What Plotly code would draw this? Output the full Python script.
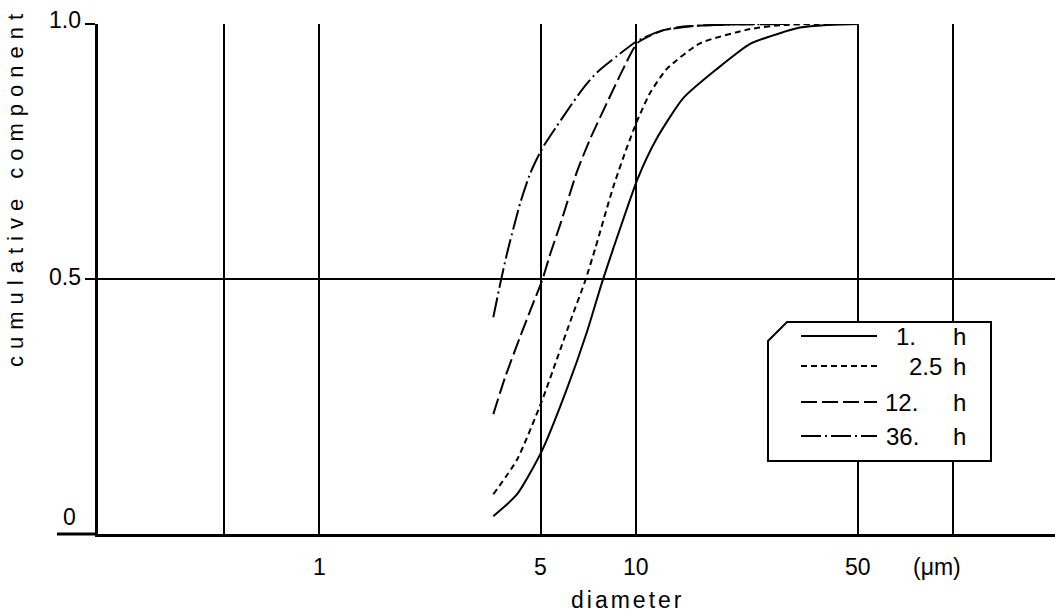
import math
import plotly.graph_objects as go

# ---------------- data ----------------
series_names = ["1.  h", "2.5 h", "12. h", "36. h"]

d_1h = [3.54, 4.21, 5.04, 6.04, 6.99, 7.79, 8.46, 10.1, 11.6, 14.1, 18.0, 22.9, 29.1, 32.9, 40, 50]
v_1h = [0.035, 0.078, 0.163, 0.284, 0.396, 0.492, 0.559, 0.696, 0.775, 0.855, 0.912, 0.961, 0.984, 0.993, 0.998, 1.0]

d_25h = [3.54, 4.2, 5.04, 5.62, 6.27, 6.9, 7.42, 8.46, 9.35, 10.1, 11.07, 12.5, 15.9, 22.9, 29.1, 40]
v_25h = [0.078, 0.145, 0.261, 0.343, 0.426, 0.496, 0.559, 0.68, 0.758, 0.812, 0.865, 0.912, 0.962, 0.99, 0.998, 1.0]

d_12h = [3.54, 3.86, 4.31, 4.69, 5.04, 5.36, 5.76, 6.5, 7.16, 8.08, 9.1, 10.1, 12.2, 14.1, 20, 30]
v_12h = [0.235, 0.308, 0.388, 0.447, 0.496, 0.55, 0.607, 0.71, 0.775, 0.845, 0.912, 0.963, 0.988, 0.995, 0.999, 1.0]

d_36h = [3.54, 3.72, 3.91, 4.31, 4.63, 5.04, 5.62, 6.33, 6.8, 7.52, 8.69, 10.1, 12.2, 15.9, 20, 30]
v_36h = [0.425, 0.49, 0.55, 0.65, 0.707, 0.755, 0.8, 0.847, 0.874, 0.905, 0.937, 0.967, 0.988, 0.997, 0.999, 1.0]

x_grid_vals = [0.5, 1, 5, 10, 50, 100]
x_tick_vals = [1, 5, 10, 50]
x_tick_text = ["1", "5", "10", "50"]
y_tick_vals = [0, 0.5, 1.0]
y_tick_text = ["0", "0.5", "1.0"]
x_unit = "(μm)"
x_title = "diameter"
y_title = "cumulative component"

# ---------------- layout helpers ----------------
W, H = 1055, 614
L, R, T, B = 98, 0, 24, 80
PW, PH = W - L - R, H - T - B


def px(xp):
    return (xp - L) / PW


def py(yp):
    return (H - B - yp) / PH


FONT = "Liberation Sans, Arial, sans-serif"
dashes = ["solid", "6px,4px", "16px,5px", "20px,4px,2px,4px"]
series = [(d_1h, v_1h), (d_25h, v_25h), (d_12h, v_12h), (d_36h, v_36h)]

fig = go.Figure()
for (dx, vy), name, dash in zip(series, series_names, dashes):
    fig.add_trace(go.Scatter(
        x=dx, y=vy, mode="lines", name=name, showlegend=False,
        line=dict(color="black", width=2, dash=dash, shape="spline", smoothing=0.6),
        hoverinfo="skip",
    ))

annotations = []
# x tick labels
for v, t in zip(x_tick_vals, x_tick_text):
    annotations.append(dict(x=math.log10(v), xref="x", y=py(567), yref="paper",
                            text=t, showarrow=False, xanchor="center", yanchor="middle",
                            font=dict(family=FONT, size=23, color="black")))
annotations.append(dict(x=px(937), xref="paper", y=py(567), yref="paper",
                        text=x_unit, showarrow=False, xanchor="center", yanchor="middle",
                        font=dict(family=FONT, size=23, color="black")))
# y tick labels
y_label_right = [78, 83, 83]
y_label_shift = [17, 2, 4]
for v, t, xr, ys in zip(y_tick_vals, y_tick_text, y_label_right, y_label_shift):
    annotations.append(dict(x=px(xr), xref="paper", y=v, yref="y", yshift=ys,
                            text=t, showarrow=False, xanchor="right", yanchor="middle",
                            font=dict(family=FONT, size=23, color="black")))
# axis titles
annotations.append(dict(x=px(627), xref="paper", y=py(600), yref="paper",
                        text='<span style="letter-spacing:3px">' + x_title + '</span>',
                        showarrow=False, xanchor="center", yanchor="middle",
                        font=dict(family=FONT, size=23, color="black")))
annotations.append(dict(x=px(15), xref="paper", y=py(187), yref="paper",
                        text='<span style="letter-spacing:7px">' + y_title + '</span>',
                        showarrow=False, textangle=-90, xanchor="center", yanchor="middle",
                        font=dict(family=FONT, size=22, color="black")))

# ---------------- legend (drawn box with chamfered corner) ----------------
bx0, bx1, by0, by1, ch = 768, 991, 322, 461, 19
shapes = []
path = (f"M {px(bx0)} {py(by0 + ch)} L {px(bx0 + ch)} {py(by0)} L {px(bx1)} {py(by0)} "
        f"L {px(bx1)} {py(by1)} L {px(bx0)} {py(by1)} Z")
shapes.append(dict(type="path", path=path, xref="paper", yref="paper",
                   line=dict(color="black", width=2), fillcolor="white", layer="above"))
leg_y = [336, 366, 402, 436]
num_text = ["1.", "2.5", "12.", "36."]
num_right = [918, 944, 920, 921]
for yy, dash, nt, nr in zip(leg_y, dashes, num_text, num_right):
    shapes.append(dict(type="line", xref="paper", yref="paper",
                       x0=px(801), x1=px(877), y0=py(yy), y1=py(yy),
                       line=dict(color="black", width=2, dash=dash), layer="above"))
    annotations.append(dict(x=px(nr), xref="paper", y=py(yy), yref="paper",
                            text=nt, showarrow=False, xanchor="right", yanchor="middle",
                            font=dict(family=FONT, size=24, color="black")))
    annotations.append(dict(x=px(951), xref="paper", y=py(yy), yref="paper",
                            text="h", showarrow=False, xanchor="left", yanchor="middle",
                            font=dict(family=FONT, size=24, color="black")))

# extension of the zero line to the left of the y axis
shapes.append(dict(type="line", xref="paper", yref="paper",
                   x0=px(57), x1=0, y0=0, y1=0, line=dict(color="black", width=3)))

fig.update_layout(
    width=W, height=H,
    margin=dict(l=L, r=R, t=T, b=B, pad=0),
    paper_bgcolor="white", plot_bgcolor="white",
    showlegend=False,
    annotations=annotations, shapes=shapes,
    xaxis=dict(type="log", range=[math.log10(0.2), math.log10(210)],
               tickvals=x_grid_vals, showticklabels=False, ticks="",
               showgrid=True, gridcolor="black", gridwidth=1.5,
               showline=True, linecolor="black", linewidth=3, mirror=False,
               zeroline=False, fixedrange=True),
    yaxis=dict(range=[0, 1], tickvals=y_tick_vals, showticklabels=False,
               ticks="outside", ticklen=10, tickwidth=2, tickcolor="black",
               showgrid=True, gridcolor="black", gridwidth=1.5,
               showline=True, linecolor="black", linewidth=3,
               zeroline=False, fixedrange=True),
)

fig.write_html("out.html", config={"displayModeBar": False},
               post_script="document.body.style.margin='0';")
